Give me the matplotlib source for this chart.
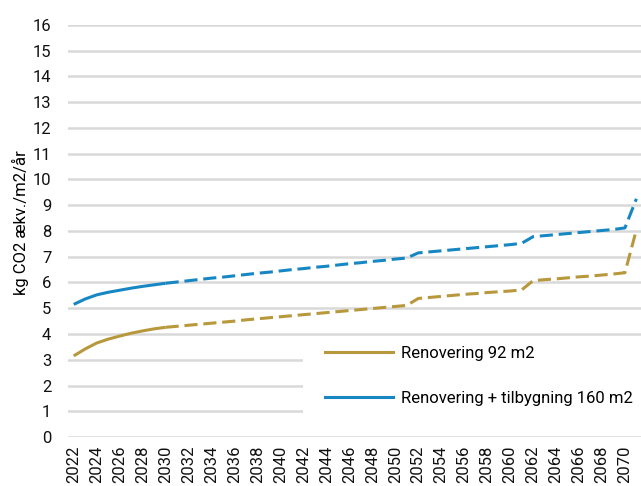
import matplotlib
matplotlib.use("Agg")
import matplotlib.pyplot as plt
from matplotlib.lines import Line2D
from matplotlib.patches import Rectangle

years = list(range(2022, 2072))
renovering = [3.15, 3.42, 3.65, 3.80, 3.92, 4.03, 4.12, 4.20, 4.26,
              4.30, 4.34, 4.38, 4.42, 4.46, 4.50, 4.55, 4.59, 4.63, 4.67, 4.71,
              4.75, 4.79, 4.83, 4.87, 4.91, 4.95, 4.99, 5.03, 5.07, 5.11,
              5.38, 5.42, 5.46, 5.50, 5.54, 5.57, 5.61, 5.64, 5.67, 5.71,
              6.07, 6.11, 6.14, 6.18, 6.22, 6.25, 6.29, 6.33, 6.38, 8.05]
tilbygning = [5.15, 5.36, 5.52, 5.62, 5.70, 5.78, 5.85, 5.91, 5.97,
              6.02, 6.07, 6.12, 6.17, 6.21, 6.26, 6.31, 6.36, 6.40, 6.45, 6.50,
              6.54, 6.59, 6.63, 6.68, 6.73, 6.77, 6.82, 6.86, 6.91, 6.95,
              7.15, 7.19, 7.23, 7.27, 7.31, 7.35, 7.39, 7.43, 7.47, 7.52,
              7.78, 7.82, 7.86, 7.90, 7.94, 7.98, 8.02, 8.06, 8.12, 9.25]
labels = ["Renovering 92 m2", "Renovering + tilbygning 160 m2"]
split_year = 2030
xticks = list(range(2022, 2071, 2))
yticks = list(range(0, 17))

gold = "#B8983C"
blue = "#1787C4"
plt.rcParams['font.family'] = ['Roboto', 'DejaVu Sans']

fig = plt.figure(figsize=(6.41, 4.86), dpi=100)
ax = fig.add_axes([68/641, 1 - 437/486, 1 - 68/641, (437 - 25)/486])

si = years.index(split_year)
lw = 2.2
for vals, col in [(renovering, gold), (tilbygning, blue)]:
    ax.plot(years[:si + 1], vals[:si + 1], color=col, lw=lw, solid_capstyle='butt', zorder=3)
    ax.plot(years[si:], vals[si:], color=col, lw=lw, dashes=(4.3, 1.9), zorder=3)

fs = 12
ax.set_xlim(2021.5, 2071.4)
ax.set_ylim(0, 16)
ax.set_yticks(yticks)
ax.set_xticks(xticks)
ax.set_xticklabels([str(x) for x in xticks], rotation=90)
ax.tick_params(axis='both', length=0, labelsize=fs, colors='#111111')
ax.tick_params(axis='y', pad=12)
ax.tick_params(axis='x', pad=6)
ax.grid(axis='y', color='#D9D9D9', lw=1.8)
ax.set_axisbelow(True)
for s in ax.spines.values():
    s.set_visible(False)
ax.set_ylabel("kg CO2 ækv./m2/år", fontsize=fs)
ax.yaxis.set_label_coords(-0.068, 0.52)

# white legend background covering the gridlines
ax.add_patch(Rectangle((0.41, 0.006), 0.59, 0.23, transform=ax.transAxes,
                       facecolor='white', edgecolor='none', zorder=2.5))

handles = [Line2D([], [], color=gold, lw=lw), Line2D([], [], color=blue, lw=lw)]
leg = ax.legend(handles, labels, loc='upper left', bbox_to_anchor=(0.4485, 0.221),
                frameon=False, fontsize=fs, handlelength=4.1, handletextpad=0.45,
                labelspacing=1.78, borderpad=0.0, borderaxespad=0.0)
leg.set_zorder(5)

fig.savefig("out.png", dpi=100)
